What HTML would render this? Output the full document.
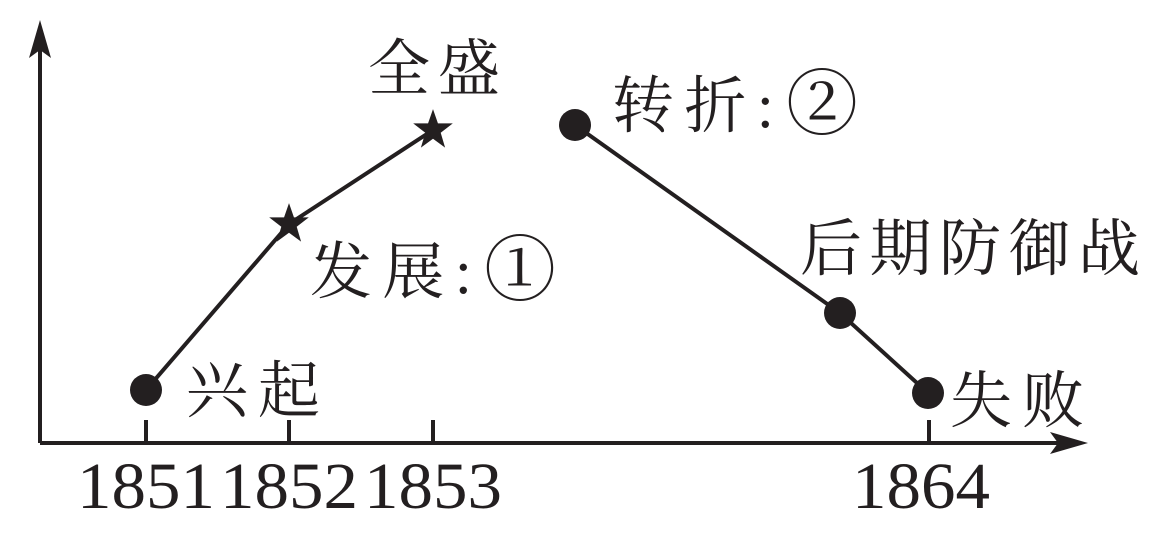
<!DOCTYPE html>
<html><head><meta charset="utf-8"><style>
html,body{margin:0;padding:0;background:#fff;}
svg{display:block;}
text{font-family:"Liberation Serif","Noto Serif CJK SC",serif;fill:#231f20;}
</style></head><body>
<svg width="1167" height="539" viewBox="0 0 1167 539" xmlns="http://www.w3.org/2000/svg">
<g stroke="#231f20" stroke-width="4" fill="none">
<line x1="40" y1="443" x2="40" y2="30"/>
<line x1="40" y1="443" x2="1075" y2="443"/>
<line x1="146" y1="420" x2="146" y2="443"/>
<line x1="289" y1="420" x2="289" y2="443"/>
<line x1="433" y1="420" x2="433" y2="443"/>
<line x1="929" y1="420" x2="929" y2="443"/>
<polyline points="146,390 289,224 433,130"/>
<polyline points="575,125 840,313 928,393"/>
</g>
<polygon points="40,20 29,58 40,50 51,58" fill="#231f20"/>
<polygon points="1088,443 1050,432 1058,443 1050,454" fill="#231f20"/>
<g fill="#231f20">
<circle cx="146" cy="390" r="16"/>
<circle cx="575" cy="125" r="16"/>
<circle cx="840" cy="313" r="16"/>
<circle cx="928" cy="393" r="16"/>
<polygon transform="translate(289,224) scale(1.1)" points="0,-19 4.5,-6 18,-6 7,2.5 11,16 0,8 -11,16 -7,2.5 -18,-6 -4.5,-6"/>
<polygon transform="translate(433,130) scale(1.1)" points="0,-19 4.5,-6 18,-6 7,2.5 11,16 0,8 -11,16 -7,2.5 -18,-6 -4.5,-6"/>
</g>
<g font-size="62">
<text x="368" y="90" textLength="132" lengthAdjust="spacing">全盛</text>
<text x="612" y="127" textLength="162" lengthAdjust="spacing">转折:</text>
<text x="786" y="129" font-size="72">②</text>
<text x="310" y="293" textLength="162" lengthAdjust="spacing">发展:</text>
<text x="484" y="295" font-size="72">①</text>
<text x="800" y="270" textLength="340" lengthAdjust="spacing">后期防御战</text>
<text x="186" y="412" textLength="134" lengthAdjust="spacing">兴起</text>
<text x="950" y="422" textLength="134" lengthAdjust="spacing">失败</text>
</g>
<g font-size="66">
<text x="77" y="508" textLength="138" lengthAdjust="spacingAndGlyphs">1851</text>
<text x="220" y="508" textLength="138" lengthAdjust="spacingAndGlyphs">1852</text>
<text x="364" y="508" textLength="138" lengthAdjust="spacingAndGlyphs">1853</text>
<text x="852" y="508" textLength="138" lengthAdjust="spacingAndGlyphs">1864</text>
</g>
</svg>
</body></html>
